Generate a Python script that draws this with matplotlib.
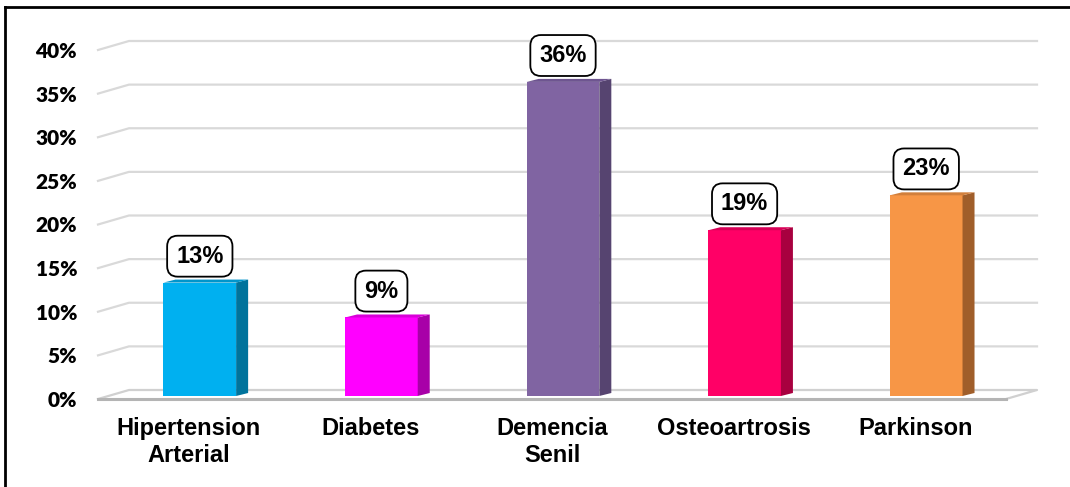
import matplotlib
matplotlib.use("Agg")
import matplotlib.pyplot as plt
from matplotlib.patches import Polygon
from matplotlib.lines import Line2D

categorias = ["Hipertension\nArterial", "Diabetes", "Demencia\nSenil", "Osteoartrosis", "Parkinson"]
porcentajes = [13, 9, 36, 19, 23]
colores = ["#00B0F0", "#FF00FF", "#8064A2", "#FF0066", "#F79646"]
colores_lado = ["#00739C", "#A800A8", "#564470", "#A8003F", "#A05E2A"]
colores_tapa = ["#0095CC", "#D800D8", "#6E5590", "#D80056", "#D27F3B"]
marcas = [0, 5, 10, 15, 20, 25, 30, 35, 40]
marcas_txt = ["0%", "5%", "10%", "15%", "20%", "25%", "30%", "35%", "40%"]

W, H = 1070, 487
fig = plt.figure(figsize=(W / 100, H / 100), dpi=100)
ax = fig.add_axes([98 / W, 1 - 399 / H, (1006 - 98) / W, (399 - 50) / H])
ax.set_xlim(-0.5, 4.5)
ax.set_ylim(0, 40)
for s in ax.spines.values():
    s.set_visible(False)

# pixel -> data conversion for the fake 3D depth
px_x = ax.bbox.width / 5.0
px_y = ax.bbox.height / 40.0
prof_x, prof_y = 31 / px_x, 9 / px_y      # back wall offset
barra_x, barra_y = 11 / px_x, 3 / px_y    # bars sit a bit behind the front
lado_x, lado_y = 12 / px_x, 3 / px_y      # bar side depth

# back wall grid lines with slanted left ends
for v in marcas[1:]:
    ax.plot([-0.5, -0.5 + prof_x, 4.5 + prof_x], [v, v + prof_y, v + prof_y],
            color="#d9d9d9", lw=1.6, clip_on=False, zorder=1)

# floor
ax.plot([-0.5, -0.5 + prof_x, 4.5 + prof_x, 4.5], [0, prof_y, prof_y, 0],
        color="#d0d0d0", lw=1.6, clip_on=False, zorder=1)
ax.plot([-0.5, 4.5], [0, 0], color="#b4b4b4", lw=2.2, clip_on=False, zorder=1)

pos = list(range(len(categorias)))
ancho = 0.4
centros = [p + barra_x for p in pos]
ax.bar(centros, porcentajes, width=ancho, bottom=barra_y, color=colores, zorder=3)

for c, v, cl, ct in zip(centros, porcentajes, colores_lado, colores_tapa):
    xl, xr = c - ancho / 2, c + ancho / 2
    top = v + barra_y
    lado = Polygon([(xr, barra_y), (xr + lado_x, barra_y + lado_y),
                    (xr + lado_x, top + lado_y), (xr, top)],
                   closed=True, fc=cl, ec="none", zorder=3)
    tapa = Polygon([(xl, top), (xl + lado_x, top + lado_y),
                    (xr + lado_x, top + lado_y), (xr, top)],
                   closed=True, fc=ct, ec="none", zorder=3)
    ax.add_patch(lado)
    ax.add_patch(tapa)
    ax.annotate(f"{v}%", (c, top), xytext=(0, 19), textcoords="offset points",
                ha="center", va="center", fontsize=17, fontweight="bold",
                family="Liberation Sans", zorder=5,
                bbox=dict(boxstyle="round,pad=0.38,rounding_size=0.45",
                          fc="white", ec="black", lw=1.3))

ax.set_yticks(marcas)
ax.set_yticklabels(marcas_txt, fontsize=15, fontweight="heavy", family="Lato")
ax.set_xticks(pos)
ax.set_xticklabels(categorias, fontsize=17, fontweight="bold", family="Liberation Sans")
ax.tick_params(axis="y", length=0, pad=15)
ax.tick_params(axis="x", length=0, pad=13)

# outer frame (left and top edges)
fig.add_artist(Line2D([5 / W, 5 / W], [0, 1 - 7 / H], transform=fig.transFigure,
                      color="black", lw=2))
fig.add_artist(Line2D([5 / W, 1], [1 - 7 / H, 1 - 7 / H], transform=fig.transFigure,
                      color="black", lw=2))

fig.savefig("out.png", dpi=100)
